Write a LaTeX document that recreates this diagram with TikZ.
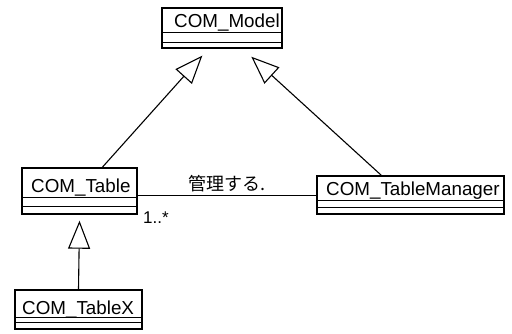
\documentclass[tikz,border=0pt]{standalone}
\usepackage{fontspec}
\setmainfont{Liberation Sans}
\newfontfamily\jpfont{Noto Sans CJK JP}
\usetikzlibrary{arrows.meta,calc}
\begin{document}
\begin{tikzpicture}[x=1pt,y=-1pt,
  cls/.style={draw, line width=1.4pt, rectangle, inner sep=0pt},
  clsname/.style={anchor=base west, inner sep=0pt, font=\fontsize{18.8}{20}\selectfont},
  sep/.style={line width=1pt},
  gen/.style={line width=1.1pt, -{Triangle[length=28pt,width=22pt,fill=white,line width=1.1pt]}},
  assoc/.style={line width=1.1pt},
  lbl/.style={inner sep=0pt}]
\useasboundingbox (0,0) rectangle (512,333);
% classes
\node[cls, minimum width=120pt, minimum height=40pt] (model) at (222,28) {};
\node[clsname] (modelL) at (174,27) {COM\_Model};
\draw[sep] ($(model.north west)+(0,25)$) -- ($(model.north east)+(0,25)$);
\draw[sep] ($(model.north west)+(0,35)$) -- ($(model.north east)+(0,35)$);

\node[cls, minimum width=115pt, minimum height=46pt] (table) at (79.5,191) {};
\node[clsname] (tableL) at (31,192) {COM\_Table};
\draw[sep] ($(table.north west)+(0,30)$) -- ($(table.north east)+(0,30)$);
\draw[sep] ($(table.north west)+(0,39)$) -- ($(table.north east)+(0,39)$);

\node[cls, minimum width=187pt, minimum height=38pt] (mgr) at (410.5,195) {};
\node[clsname] (mgrL) at (326,195) {COM\_TableManager};
\draw[sep] ($(mgr.north west)+(0,25)$) -- ($(mgr.north east)+(0,25)$);
\draw[sep] ($(mgr.north west)+(0,32)$) -- ($(mgr.north east)+(0,32)$);

\node[cls, minimum width=127pt, minimum height=39pt] (tablex) at (78.5,309.5) {};
\node[clsname] (tablexL) at (22,314) {COM\_TableX};
\draw[sep] ($(tablex.north west)+(0,28)$) -- ($(tablex.north east)+(0,28)$);
\draw[sep] ($(tablex.north west)+(0,33)$) -- ($(tablex.north east)+(0,33)$);

% generalizations
\draw[gen] ($(table.north west)+(81,0)$) -- ($(model.south west)+(41,7)$);
\draw[gen] ($(mgr.north west)+(65,0)$) -- ($(model.south west)+(90,8)$);
\draw[gen] (tablex.north) -- ($(table.south)+(0,6)$);

% association
\draw[assoc] ($(table.north east)+(0,28)$) -- ($(mgr.north west)+(0,20)$);
\node[lbl, font=\jpfont\fontsize{18}{20}\selectfont] (assocL) at (227,184) {管理する.};
\node[lbl, anchor=base west, font=\fontsize{17}{19}\selectfont] (mult) at (143,223) {1..*};
\end{tikzpicture}
\end{document}
